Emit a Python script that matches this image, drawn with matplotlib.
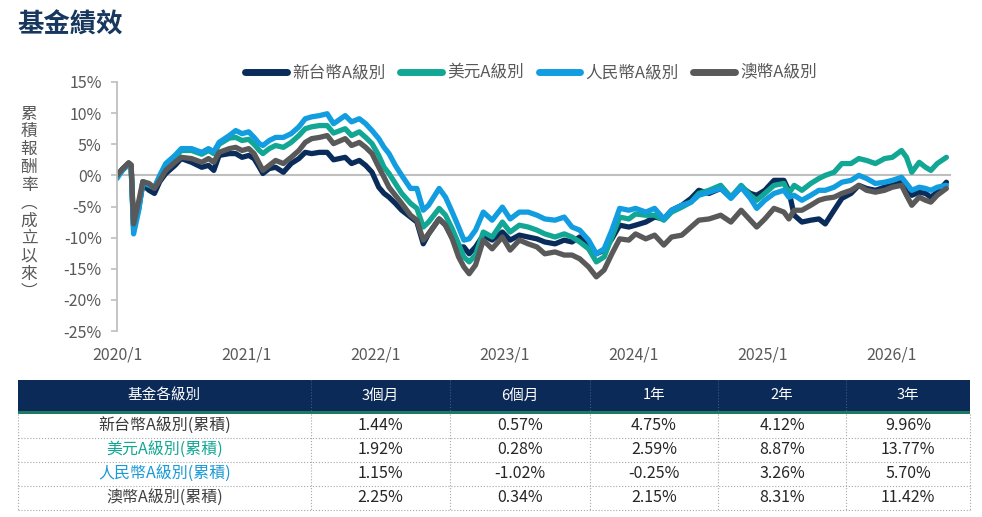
import pandas as pd
import matplotlib
matplotlib.use("Agg")
import matplotlib.pyplot as plt
from matplotlib.patches import Rectangle

plt.rcParams['font.family'] = ['Noto Sans CJK TC', 'DejaVu Sans']

# ---- 資料 ----
dates = [
    "2020-01-01", "2020-01-16", "2020-02-03", "2020-02-10", "2020-02-17", "2020-03-03",
    "2020-03-14", "2020-04-01", "2020-04-16", "2020-05-01", "2020-05-18", "2020-06-13",
    "2020-07-01", "2020-07-30", "2020-08-28", "2020-09-16", "2020-10-01", "2020-10-16",
    "2020-11-14", "2020-12-02", "2020-12-20", "2021-01-08", "2021-01-23", "2021-02-07",
    "2021-02-17", "2021-03-07", "2021-03-25", "2021-04-16", "2021-05-08", "2021-05-30",
    "2021-06-17", "2021-07-05", "2021-07-27", "2021-08-18", "2021-09-05", "2021-10-08",
    "2021-10-26", "2021-11-17", "2021-12-05", "2021-12-23", "2022-01-11", "2022-01-26",
    "2022-02-09", "2022-02-27", "2022-03-17", "2022-04-11", "2022-04-29", "2022-05-17",
    "2022-06-01", "2022-07-01", "2022-07-19", "2022-08-07", "2022-08-25", "2022-09-09",
    "2022-09-24", "2022-10-12", "2022-11-03", "2022-11-28", "2022-12-27", "2023-01-18",
    "2023-02-13", "2023-03-10", "2023-04-04", "2023-04-26", "2023-05-25", "2023-06-20",
    "2023-07-12", "2023-08-03", "2023-08-28", "2023-09-19", "2023-10-11", "2023-11-02",
    "2023-11-24", "2023-12-20", "2024-01-08", "2024-02-06", "2024-03-02", "2024-03-28",
    "2024-04-19", "2024-05-18", "2024-06-13", "2024-07-05", "2024-08-03", "2024-09-05",
    "2024-10-04", "2024-11-02", "2024-11-28", "2024-12-16", "2025-01-08", "2025-02-03",
    "2025-03-03", "2025-03-17", "2025-04-01", "2025-04-23", "2025-05-18", "2025-06-10",
    "2025-06-28", "2025-07-23", "2025-08-14", "2025-09-09", "2025-10-01", "2025-10-23",
    "2025-11-17", "2025-12-13", "2026-01-04", "2026-01-30", "2026-02-13", "2026-02-28",
    "2026-03-21", "2026-04-08", "2026-04-23", "2026-05-11", "2026-06-06",
]

twd = [
    0.0, 1.0, 2.0, 1.6, -8.3, -5.0, -1.5, -2.4, -2.9, -1.0, 0.3, 1.6,
    2.7, 2.1, 1.3, 1.6, 0.8, 3.2, 3.5, 3.5, 2.9, 3.2, 2.7, 1.3,
    0.3, 1.1, 1.3, 0.5, 1.9, 2.7, 3.7, 3.5, 3.7, 3.7, 2.5, 2.9,
    1.9, 2.4, 1.6, 0.5, -1.9, -2.9, -3.5, -4.5, -5.6, -6.7, -7.5, -11.0,
    -9.4, -7.0, -8.0, -10.0, -11.5, -11.5, -12.6, -11.5, -9.6, -10.4, -9.1, -10.4,
    -9.6, -9.9, -10.2, -10.7, -11.0, -10.4, -10.7, -9.9, -11.2, -12.6, -12.0, -10.2,
    -8.0, -8.3, -8.0, -7.5, -6.7, -7.0, -5.6, -4.8, -3.7, -2.4, -2.9, -2.1,
    -3.5, -1.9, -2.9, -3.2, -2.4, -0.8, -0.8, -2.5, -6.4, -7.5, -7.2, -7.0,
    -7.8, -5.6, -3.7, -2.9, -1.6, -2.1, -2.4, -1.9, -1.6, -1.1, -2.7, -3.2,
    -2.7, -2.9, -3.5, -2.7, -1.1,
]

usd = [
    -0.3, 0.8, 1.8, 1.4, -8.8, -5.2, -1.2, -1.6, -2.0, -0.3, 1.6, 2.9,
    4.0, 4.0, 3.4, 4.0, 3.5, 5.0, 6.0, 6.1, 5.6, 5.8, 5.0, 4.0,
    3.5, 4.3, 4.8, 4.5, 5.3, 6.4, 7.5, 7.8, 8.0, 8.0, 6.8, 7.5,
    6.4, 7.0, 6.1, 5.1, 3.2, 1.3, 0.3, -1.3, -2.9, -4.5, -5.3, -8.3,
    -7.5, -5.3, -6.4, -8.6, -11.0, -13.1, -13.9, -12.8, -9.1, -9.9, -7.5, -9.1,
    -8.0, -8.3, -8.8, -9.4, -9.9, -9.4, -9.9, -10.7, -11.8, -13.9, -13.1, -9.9,
    -6.7, -7.0, -6.2, -6.4, -6.4, -7.2, -5.9, -5.1, -4.3, -2.9, -2.4, -1.6,
    -3.5, -1.6, -3.2, -4.0, -2.9, -1.6, -1.3, -2.9, -1.6, -2.4, -1.3, -0.5,
    0.0, 0.5, 1.9, 1.9, 2.7, 2.4, 1.9, 2.7, 2.9, 4.0, 2.9, 0.5,
    2.1, 1.3, 0.8, 1.9, 2.9,
]

cny = [
    -0.5, 0.8, 1.8, 1.4, -9.4, -5.5, -1.0, -1.5, -1.9, 0.0, 1.9, 3.2,
    4.3, 4.3, 3.7, 4.3, 3.8, 5.3, 6.4, 7.2, 6.7, 7.0, 6.1, 5.1,
    4.8, 5.6, 6.1, 6.1, 6.7, 7.8, 9.1, 9.4, 9.6, 9.9, 8.3, 9.6,
    8.6, 9.1, 8.3, 7.2, 5.9, 4.5, 3.5, 1.6, 0.0, -2.1, -2.1, -5.6,
    -4.8, -2.1, -3.5, -5.9, -8.3, -10.4, -10.2, -8.8, -5.9, -7.2, -5.1, -7.0,
    -5.9, -5.9, -6.4, -7.0, -7.2, -6.7, -8.3, -8.8, -10.4, -12.6, -11.8, -8.8,
    -5.3, -5.6, -5.3, -5.9, -5.3, -7.0, -5.6, -4.8, -4.3, -3.2, -2.7, -2.1,
    -3.7, -1.9, -3.7, -5.3, -4.0, -2.9, -2.4, -3.5, -3.2, -4.0, -3.2, -2.4,
    -2.4, -1.9, -1.1, -0.8, 0.0, -0.5, -1.3, -1.1, -0.8, -0.3, -1.3, -2.4,
    -1.9, -2.1, -2.4, -1.9, -1.6,
]

aud = [
    0.0, 1.0, 2.0, 1.7, -7.8, -4.0, -1.0, -1.3, -2.1, -0.8, 0.8, 2.1,
    2.9, 2.7, 2.1, 2.7, 2.1, 3.7, 4.3, 4.5, 4.0, 4.3, 3.5, 1.9,
    0.8, 1.6, 2.4, 1.9, 2.9, 4.0, 5.3, 5.9, 6.1, 6.4, 5.1, 5.9,
    4.8, 5.3, 4.5, 3.5, 1.3, -0.3, -1.9, -3.2, -4.5, -6.4, -7.2, -10.4,
    -9.4, -7.0, -8.0, -10.2, -13.1, -14.7, -15.8, -14.4, -10.4, -11.8, -9.9, -12.0,
    -10.4, -11.0, -11.5, -12.6, -12.3, -12.8, -12.8, -13.4, -14.7, -16.3, -15.2, -12.6,
    -10.2, -10.4, -9.4, -10.2, -9.6, -11.2, -9.9, -9.6, -8.3, -7.2, -7.0, -6.4,
    -7.5, -5.6, -7.2, -8.3, -7.0, -5.3, -5.9, -7.0, -5.6, -5.6, -4.8, -4.0,
    -3.7, -3.5, -2.9, -2.4, -1.6, -2.4, -2.7, -2.4, -1.9, -1.6, -3.2, -4.8,
    -3.5, -4.0, -4.3, -3.2, -2.1,
]

series_names = ["新台幣A級別", "美元A級別", "人民幣A級別", "澳幣A級別"]
series_colors = ["#0a2c5a", "#12a794", "#119ddf", "#595959"]
year_ticks = ["2020-01-01", "2021-01-01", "2022-01-01", "2023-01-01",
              "2024-01-01", "2025-01-01", "2026-01-01"]
y_ticks = [15, 10, 5, 0, -5, -10, -15, -20, -25]

table_cols = ["基金各級別", "3個月", "6個月", "1年", "2年", "3年"]
table_rows = ["新台幣A級別(累積)", "美元A級別(累積)", "人民幣A級別(累積)", "澳幣A級別(累積)"]
table_vals = [
    ["1.44%", "0.57%", "4.75%", "4.12%", "9.96%"],
    ["1.92%", "0.28%", "2.59%", "8.87%", "13.77%"],
    ["1.15%", "-1.02%", "-0.25%", "3.26%", "5.70%"],
    ["2.25%", "0.34%", "2.15%", "8.31%", "11.42%"],
]
row_label_colors = ["#3a3a3a", "#12a794", "#1a9ad6", "#404040"]

W, H = 982, 517
fig = plt.figure(figsize=(W / 100, H / 100), dpi=100)

# ---- 折線圖 ----
ax = fig.add_axes([117 / W, 1 - 331 / H, (951 - 117) / W, (331 - 82) / H])
x = pd.to_datetime(dates)
for vals, name, col in zip([twd, usd, cny, aud], series_names, series_colors):
    ax.plot(x, vals, color=col, lw=3.8, label=name,
            solid_capstyle="round", solid_joinstyle="round")

ax.set_xlim(pd.Timestamp("2020-01-01"), pd.Timestamp("2026-06-19"))
ax.set_ylim(-25, 15)
ax.axhline(0, color="#bfbfbf", lw=1.5, zorder=0)
for s in ["top", "right", "bottom"]:
    ax.spines[s].set_visible(False)
ax.spines["left"].set_color("#bfbfbf")
ax.spines["left"].set_linewidth(1.3)

ax.set_yticks(y_ticks)
ax.set_yticklabels([f"{v}%" for v in y_ticks])
ax.set_xticks(pd.to_datetime(year_ticks))
ax.set_xticklabels([f"{d[:4]}/1" for d in year_ticks])
ax.tick_params(axis="y", length=4, width=1.2, color="#bfbfbf",
               labelcolor="#595959", labelsize=11.5, pad=7)
ax.tick_params(axis="x", length=0, labelcolor="#595959", labelsize=11.5, pad=11)

leg = ax.legend(loc="center", bbox_to_anchor=(531 / W, 1 - 73 / H),
                bbox_transform=fig.transFigure, ncol=4, frameon=False,
                fontsize=12, handlelength=2.5, handletextpad=0.3,
                columnspacing=0.9)
for t in leg.get_texts():
    t.set_color("#595959")
for h in leg.get_lines():
    h.set_linewidth(5)
    h.set_solid_capstyle("round")

# ---- 標題、Y軸標籤、表格 ----
ov = fig.add_axes([0, 0, 1, 1])
ov.set_xlim(0, W)
ov.set_ylim(H, 0)
ov.axis("off")

ov.text(17, 25, "基金績效", fontsize=19, fontweight="bold", color="#17375e",
        va="center", ha="left")

ylab = ["累", "積", "報", "酬", "率", "︵", "成", "立", "以", "來", "︶"]
for i, ch in enumerate(ylab):
    ov.text(29, 114 + 17.8 * i, ch, fontsize=12, color="#595959",
            ha="center", va="center")

col_edges = [18, 311, 450, 590, 718, 846, 970]
top, head_b, bar_b, row_h = 380, 411, 414, 24

ov.add_patch(Rectangle((col_edges[0], top), col_edges[-1] - col_edges[0],
                       head_b - top, color="#0b2a57", lw=0))
ov.add_patch(Rectangle((col_edges[0], head_b), col_edges[-1] - col_edges[0],
                       bar_b - head_b, color="#1d7a60", lw=0))
for j, c in enumerate(table_cols):
    cx = (col_edges[j] + col_edges[j + 1]) / 2
    ov.text(cx, (top + head_b) / 2, c, color="white", fontsize=10.5,
            ha="center", va="center")
for xe in col_edges[1:-1]:
    ov.plot([xe, xe], [top, head_b], color="#3c5a82", lw=0.8, ls=":")

bottom = bar_b + row_h * len(table_rows)
for i, (lab, vals) in enumerate(zip(table_rows, table_vals)):
    cy = bar_b + row_h * (i + 0.5)
    ov.text((col_edges[0] + col_edges[1]) / 2, cy, lab, fontsize=11.5,
            color=row_label_colors[i], ha="center", va="center")
    for j, v in enumerate(vals):
        cx = (col_edges[j + 1] + col_edges[j + 2]) / 2
        ov.text(cx, cy, v, fontsize=11.5, color="#262626", ha="center", va="center")
    yb = bar_b + row_h * (i + 1)
    ov.plot([col_edges[0], col_edges[-1]], [yb, yb], color="#a6a6a6", lw=0.8, ls=":")
for xe in col_edges:
    ov.plot([xe, xe], [bar_b, bottom], color="#a6a6a6", lw=0.8, ls=":")

fig.savefig("out.png", dpi=100)
